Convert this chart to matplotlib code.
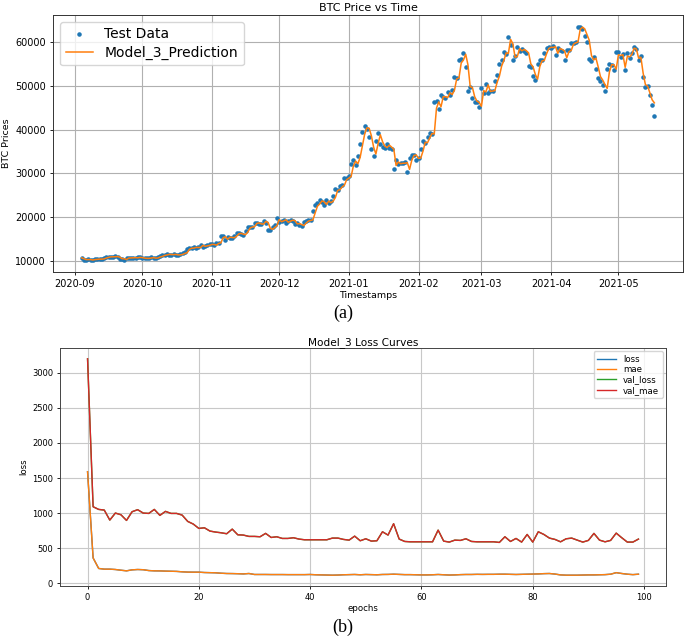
import numpy as np
import pandas as pd
import matplotlib
matplotlib.use("Agg")
import matplotlib.pyplot as plt
import matplotlib.dates as mdates

# ---------------- data: BTC test set (daily, starting 2020-09-04) ----------------
start_date = "2020-09-04"
price_sep = [10550, 10170, 10250, 10370, 10130, 10230, 10340, 10390, 10440, 10330, 10680, 10790, 10960,
             10940, 10930, 11080, 10920, 10420, 10530, 10240, 10740, 10690, 10730, 10770, 10690, 10840, 10780]
price_oct = [10620, 10570, 10550, 10670, 10790, 10600, 10670, 10920, 11060, 11300, 11380, 11550, 11430,
             11430, 11500, 11330, 11370, 11500, 11750, 11920, 12820, 12990, 12930, 13130, 13040, 13070,
             13650, 13280, 13460, 13560, 13800]
price_nov = [13760, 13550, 14030, 14160, 15590, 15580, 14830, 15480, 15330, 15300, 15700, 16290, 16320,
             16070, 15970, 16720, 17660, 17800, 17820, 18680, 18720, 18420, 18370, 19160, 18740, 17150,
             17140, 17720, 18180, 19710]
price_dec = [18800, 19200, 19450, 18700, 19150, 19360, 19170, 18320, 18550, 18250, 18030, 18800, 19170,
             19270, 19440, 21350, 22800, 23110, 23850, 23480, 22750, 23820, 23240, 23730, 24710, 26440,
             26250, 27040, 27370, 28840, 28950]
price_jan = [29400, 32200, 33000, 32000, 34000, 36800, 39400, 40700, 40200, 38200, 35500, 34000, 37400,
             39200, 36800, 36000, 35800, 36600, 35900, 35500, 30900, 33000, 32100, 32300, 32300, 32500,
             30400, 33500, 34300, 34300, 33100]
price_feb = [33500, 35500, 37500, 36900, 38300, 39300, 38900, 46200, 46500, 44800, 47900, 47500, 47200,
             48600, 47900, 49100, 52100, 51700, 55900, 56100, 57500, 54200, 48800, 49700, 47100, 46300,
             46200, 45100]
price_mar = [49600, 48400, 50500, 48400, 48800, 48900, 51200, 52400, 54900, 56000, 57800, 57300, 61200,
             59300, 55900, 56800, 58900, 57900, 58300, 58000, 57400, 54500, 54200, 52300, 51300, 55000,
             55900, 55800, 57600, 58700, 58900]
price_apr = [58700, 59000, 57100, 58700, 58200, 57900, 56000, 58100, 58100, 59800, 59800, 60000, 63500,
             63500, 62900, 61400, 60100, 56200, 55700, 56500, 53800, 51700, 51100, 50100, 48900, 53900,
             55000, 54800, 53500, 57700]
price_may = [57800, 56600, 57200, 53600, 57400, 56400, 57400, 58900, 58300, 55800, 56700, 52000, 49700,
             49900, 47900, 45600, 43150]

pred_sep = [10700, 10500, 10300, 10300, 10300, 10200, 10300, 10350, 10400, 10400, 10450, 10650, 10800,
            10920, 10930, 10950, 11000, 10850, 10500, 10500, 10300, 10650, 10680, 10720, 10740, 10700, 10800]
pred_oct = [10760, 10640, 10580, 10570, 10650, 10760, 10620, 10660, 10880, 11020, 11250, 11350, 11500,
            11450, 11430, 11480, 11360, 11370, 11470, 11700, 11880, 12650, 12900, 12920, 13080, 13050,
            13070, 13550, 13330, 13440, 13540]
pred_nov = [13760, 13750, 13590, 13980, 14130, 15300, 15520, 14950, 15400, 15340, 15300, 15630, 16180,
            16280, 16100, 15990, 16600, 17500, 17740, 17800, 18550, 18680, 18450, 18380, 19020, 18780,
            17450, 17200, 17620, 18080]
pred_dec = [19450, 18950, 19150, 19380, 18820, 19080, 19300, 19180, 18450, 18520, 18300, 18080, 18650,
            19080, 19230, 19400, 21000, 22500, 23000, 23700, 23500, 22900, 23650, 23300, 23650, 24500,
            26100, 26250, 26900, 27300, 28550]
pred_jan = [28900, 29300, 31700, 32800, 32200, 33650, 36300, 38900, 40400, 40300, 38600, 36000, 34400,
            36800, 38800, 37200, 36200, 35900, 36450, 36000, 35500, 31800, 32600, 32200, 32300, 32300,
            32450, 30900, 33000, 34100, 34200]
pred_feb = [33400, 33500, 35100, 37100, 37000, 38100, 39100, 39000, 44900, 46300, 45200, 47500, 47500,
            47300, 48400, 48000, 49000, 51600, 51800, 55200, 55900, 57200, 54800, 49800, 49600, 47500,
            46500, 46200]
pred_mar = [45300, 48900, 48600, 50200, 48700, 48800, 48900, 50800, 52200, 54500, 55800, 57500, 57400,
            60600, 59600, 56500, 56700, 58500, 58000, 58300, 58000, 57500, 55000, 54300, 52600, 51500,
            54400, 55700, 55800, 57300, 58500]
pred_apr = [58800, 58750, 58950, 57400, 58500, 58300, 57950, 56400, 57800, 58100, 59500, 59800, 60000,
            62900, 63400, 63000, 61700, 60400, 56900, 55900, 56300, 54300, 52100, 51300, 50300, 49400,
            53200, 54800, 54800, 53800]
pred_may = [57100, 56900, 57100, 54200, 56800, 56600, 57200, 58600, 58400, 56300, 56500, 52900, 50300,
            49900, 48400, 46800, 46100]

test_prices = (price_sep + price_oct + price_nov + price_dec + price_jan + price_feb +
               price_mar + price_apr + price_may)
model_3_preds = (pred_sep + pred_oct + pred_nov + pred_dec + pred_jan + pred_feb +
                 pred_mar + pred_apr + pred_may)
timestamps = pd.date_range(start_date, periods=len(test_prices), freq="D")

# ---------------- data: training history (100 epochs) ----------------
epochs = list(range(100))
mae = [1590, 360, 210, 200, 200, 195, 185, 176, 190, 195, 192, 180, 176, 175, 172, 170, 168, 162,
       158, 157, 157, 152, 150, 148, 142, 138, 137, 135, 132, 138, 124, 124, 124, 123, 123, 123, 122,
       122, 122, 122, 124, 120, 118, 116, 114, 116, 120, 122, 124, 120, 124, 122, 120, 124, 125, 128,
       125, 122, 122, 120, 118, 118, 120, 124, 120, 116, 118, 122, 124, 124, 126, 125, 126, 126, 128,
       128, 126, 124, 126, 128, 130, 132, 136, 138, 130, 118, 114, 114, 114, 116, 118, 118, 120, 122,
       128, 150, 138, 128, 122, 128]
val_mae = [3200, 1090, 1052, 1043, 900, 1000, 976, 895, 1019, 1048, 1000, 995, 1052, 967, 1024, 995,
           995, 971, 881, 843, 781, 790, 743, 729, 719, 705, 771, 690, 686, 667, 667, 662, 710, 652,
           662, 638, 638, 648, 629, 619, 619, 619, 619, 619, 643, 643, 624, 614, 671, 605, 633, 600,
           605, 733, 686, 848, 629, 595, 590, 590, 590, 590, 590, 757, 600, 586, 614, 610, 633, 595,
           590, 590, 590, 590, 581, 662, 595, 638, 586, 695, 586, 733, 695, 643, 624, 590, 633, 643,
           614, 586, 610, 710, 614, 590, 610, 714, 648, 586, 586, 629]
loss = mae
val_loss = val_mae

# ---------------- figure ----------------
plt.rcParams["font.family"] = ["DejaVu Sans"]
fig = plt.figure(figsize=(6.85, 6.38), dpi=100)

# ----- (a) BTC price vs time -----
ax1 = fig.add_axes([53 / 685, 1 - 272 / 638, 630 / 685, 257 / 638])
ax1.plot(timestamps, test_prices, ".", color="#1f77b4", markersize=4.5, label="Test Data")
ax1.plot(timestamps, model_3_preds, "-", color="#ff7f0e", linewidth=1.1, label="Model_3_Prediction")
ax1.xaxis.set_major_locator(mdates.MonthLocator())
ax1.xaxis.set_major_formatter(mdates.DateFormatter("%Y-%m"))
ax1.set_yticks([10000, 20000, 30000, 40000, 50000, 60000])
ax1.grid(True, color="#b0b0b0", linewidth=0.8)
ax1.tick_params(labelsize=7, length=2.5, width=0.6, pad=2.5)
for s in ax1.spines.values():
    s.set_linewidth(0.7)
    s.set_color("#333333")
ax1.set_title("BTC Price vs Time", fontsize=8, pad=3)
ax1.set_xlabel("Timestamps", fontsize=6.8, labelpad=1.5)
ax1.set_ylabel("BTC Prices", fontsize=6.8, labelpad=3)
ax1.legend(loc="upper left", fontsize=10, handlelength=2.0, borderpad=0.4,
           labelspacing=0.3, borderaxespad=0.5)

fig.text(343 / 685, 1 - 313 / 638, "(a)", ha="center", va="center",
         fontsize=13, family="Liberation Serif")

# ----- (b) loss curves -----
ax2 = fig.add_axes([60 / 685, 1 - 586 / 638, 606 / 685, 238 / 638])
ax2.plot(epochs, loss, color="#1f77b4", linewidth=1.0, label="loss")
ax2.plot(epochs, mae, color="#ff7f0e", linewidth=1.0, label="mae")
ax2.plot(epochs, val_loss, color="#2ca02c", linewidth=1.0, label="val_loss")
ax2.plot(epochs, val_mae, color="#d62728", linewidth=1.0, label="val_mae")
ax2.set_xticks([0, 20, 40, 60, 80, 100])
ax2.set_yticks([0, 500, 1000, 1500, 2000, 2500, 3000])
ax2.grid(True, color="#c8c8c8", linewidth=0.8)
ax2.tick_params(labelsize=6, length=2.5, width=0.6, pad=2.5)
for s in ax2.spines.values():
    s.set_linewidth(0.7)
    s.set_color("#444444")
ax2.set_title("Model_3 Loss Curves", fontsize=7.6, pad=2)
ax2.set_xlabel("epochs", fontsize=6.2, labelpad=1.5)
ax2.set_ylabel("loss", fontsize=6.2, labelpad=3)
ax2.legend(loc="upper right", fontsize=6.2, handlelength=2.2, borderpad=0.4,
           labelspacing=0.15, borderaxespad=0.4)

fig.text(343 / 685, 1 - 627 / 638, "(b)", ha="center", va="center",
         fontsize=13, family="Liberation Serif")

fig.savefig("out.png", dpi=100)
